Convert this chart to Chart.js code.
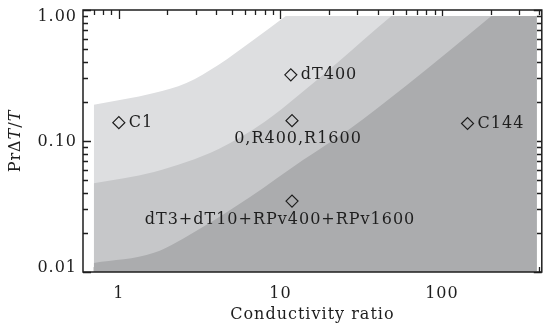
<!DOCTYPE html>
<html>
<head>
<meta charset="utf-8">
<script src="https://cdn.jsdelivr.net/npm/chart.js@4"></script>
<style>
  html, body { margin: 0; padding: 0; background: #fff; }
  canvas { display: block; }
</style>
</head>
<body>
<canvas id="board" width="549" height="328"></canvas>
<script>
// regime boundaries (conductivity ratio, Pr dT/T);
// the last points run past the top of the frame and get clipped
const edge1X = [0.7, 1.65, 2.62, 4.15, 6.64, 10.9, 16.5, 390];
const edge1Y = [0.189, 0.232, 0.277, 0.382, 0.577, 0.908, 1.35, 1.35];
const edge2X = [0.7, 1.65, 4.15, 8.0, 13.0, 22.8, 49.1, 75, 390];
const edge2Y = [0.0475, 0.058, 0.0869, 0.140, 0.224, 0.401, 0.908, 1.35, 1.35];
const edge3X = [0.7, 1.65, 3.23, 6.49, 13.8, 26.2, 60.5, 204, 300, 390];
const edge3Y = [0.0117, 0.014, 0.0217, 0.0374, 0.0716, 0.121, 0.267, 0.908, 1.35, 1.35];

// runs
const runNames = ["C1", "dT400", "0,R400,R1600", "C144", "dT3+dT10+RPv400+RPv1600"];
const runX = [1, 11.6, 11.8, 144, 11.8];
const runY = [0.138, 0.32, 0.143, 0.136, 0.0348];

// axis ticks
const xMajor = [1, 10, 100];
const xMajorLabels = ["1", "10", "100"];
const xMinor = [0.7, 0.8, 0.9, 2, 3, 4, 5, 6, 7, 8, 9, 20, 30, 40, 50, 60, 70, 80, 90, 200, 300, 400];
const yMajor = [0.01, 0.1, 1];
const yMajorLabels = ["0.01", "0.10", "1.00"];
const yMinor = [0.02, 0.03, 0.04, 0.05, 0.06, 0.07, 0.08, 0.09, 0.2, 0.3, 0.4, 0.5, 0.6, 0.7, 0.8, 0.9];

const FONT = "16px 'DejaVu Serif'";
const INK = "#1e1e1e";

function pts(xs, ys) {
  return xs.map((x, i) => ({ x: x, y: ys[i] }));
}

function fillSet(xs, ys, color, order) {
  return {
    data: pts(xs, ys),
    backgroundColor: color,
    borderWidth: 0,
    pointRadius: 0,
    fill: "start",
    cubicInterpolationMode: "monotone",
    order: order
  };
}

// label placement: dx, dy from the marker, and alignment
const labelPlace = [
  { dx: 10, dy: 0, align: "left" },
  { dx: 10, dy: 0, align: "left" },
  { dx: 6, dy: 18, align: "center" },
  { dx: 10, dy: 0, align: "left" },
  { dx: -12, dy: 19, align: "center" }
];

const frame = {
  id: "frame",
  beforeDatasetsDraw(chart) {
    const ctx = chart.ctx;
    const a = chart.chartArea;
    const xs = chart.scales.x, ys = chart.scales.y;
    ctx.save();
    ctx.strokeStyle = INK;
    ctx.lineWidth = 1.3;
    ctx.beginPath();
    const tick = (v, len, axis) => {
      if (axis === "x") {
        const p = Math.round(xs.getPixelForValue(v)) + 0.5;
        ctx.moveTo(p, a.top); ctx.lineTo(p, a.top + len);
        ctx.moveTo(p, a.bottom); ctx.lineTo(p, a.bottom - len);
      } else {
        const p = Math.round(ys.getPixelForValue(v)) + 0.5;
        ctx.moveTo(a.left, p); ctx.lineTo(a.left + len, p);
        ctx.moveTo(a.right, p); ctx.lineTo(a.right - len, p);
      }
    };
    xMajor.forEach(v => tick(v, 9, "x"));
    xMinor.forEach(v => tick(v, 5, "x"));
    yMajor.forEach(v => tick(v, 8, "y"));
    yMinor.forEach(v => tick(v, 5, "y"));
    ctx.stroke();
    ctx.restore();
    // shaded regions sit a little inside the frame
    ctx.save();
    ctx.beginPath();
    ctx.rect(a.left, a.top + 6, a.right - a.left - 5, a.bottom - a.top - 6);
    ctx.clip();
  },
  afterDatasetsDraw(chart) {
    const ctx = chart.ctx;
    ctx.restore();
    const a = chart.chartArea;
    const xs = chart.scales.x, ys = chart.scales.y;
    ctx.save();
    ctx.fillStyle = INK;
    ctx.font = FONT;
    ctx.letterSpacing = "1px";
    ctx.textBaseline = "middle";

    // run labels
    runNames.forEach((name, i) => {
      const pl = labelPlace[i];
      ctx.textAlign = pl.align;
      ctx.fillText(name, xs.getPixelForValue(runX[i]) + pl.dx, ys.getPixelForValue(runY[i]) + pl.dy);
    });

    // box
    ctx.strokeStyle = INK;
    ctx.lineWidth = 1.5;
    ctx.strokeRect(a.left, a.top, a.right - a.left, a.bottom - a.top);

    // tick labels
    ctx.textAlign = "center";
    xMajor.forEach((v, i) => ctx.fillText(xMajorLabels[i], xs.getPixelForValue(v), a.bottom + 22));
    ctx.textAlign = "right";
    yMajor.forEach((v, i) => {
      let p = ys.getPixelForValue(v);
      p = Math.min(Math.max(p, a.top + 6), a.bottom - 5);
      ctx.fillText(yMajorLabels[i], a.left - 6, p + 1);
    });

    // axis titles
    ctx.textAlign = "center";
    ctx.fillText("Conductivity ratio", (a.left + a.right) / 2, a.bottom + 43);

    ctx.translate(16, (a.top + a.bottom) / 2);
    ctx.rotate(-Math.PI / 2);
    ctx.textAlign = "left";
    const parts = [["Pr", false], ["\u0394", false], ["T", true], ["/", false], ["T", true]];
    const fontOf = it => (it ? "italic " : "") + FONT;
    let w = 0;
    parts.forEach(p => { ctx.font = fontOf(p[1]); w += ctx.measureText(p[0]).width; });
    let x = -w / 2;
    parts.forEach(p => {
      ctx.font = fontOf(p[1]);
      ctx.fillText(p[0], x, 0);
      x += ctx.measureText(p[0]).width;
    });
    ctx.restore();
  }
};

const chart = new Chart(document.getElementById("board"), {
  type: "line",
  data: {
    datasets: [
      {
        data: pts(runX, runY),
        showLine: false,
        pointStyle: "rectRot",
        pointRadius: 6,
        pointBorderWidth: 1.2,
        pointBackgroundColor: "rgba(0,0,0,0)",
        pointBorderColor: INK,
        fill: false,
        order: 0
      },
      fillSet(edge3X, edge3Y, "#abacae", 1),
      fillSet(edge2X, edge2Y, "#c6c7c9", 2),
      fillSet(edge1X, edge1Y, "#dddee0", 3)
    ]
  },
  options: {
    responsive: false,
    animation: false,
    devicePixelRatio: 1,
    layout: { padding: { left: 83, right: 1, top: 10, bottom: 56 } },
    scales: {
      x: { type: "logarithmic", min: 0.63, max: 415, display: false },
      y: { type: "logarithmic", min: 0.01, max: 1, display: false }
    },
    plugins: { legend: { display: false }, tooltip: { enabled: false } }
  },
  plugins: [frame]
});
</script>
</body>
</html>
